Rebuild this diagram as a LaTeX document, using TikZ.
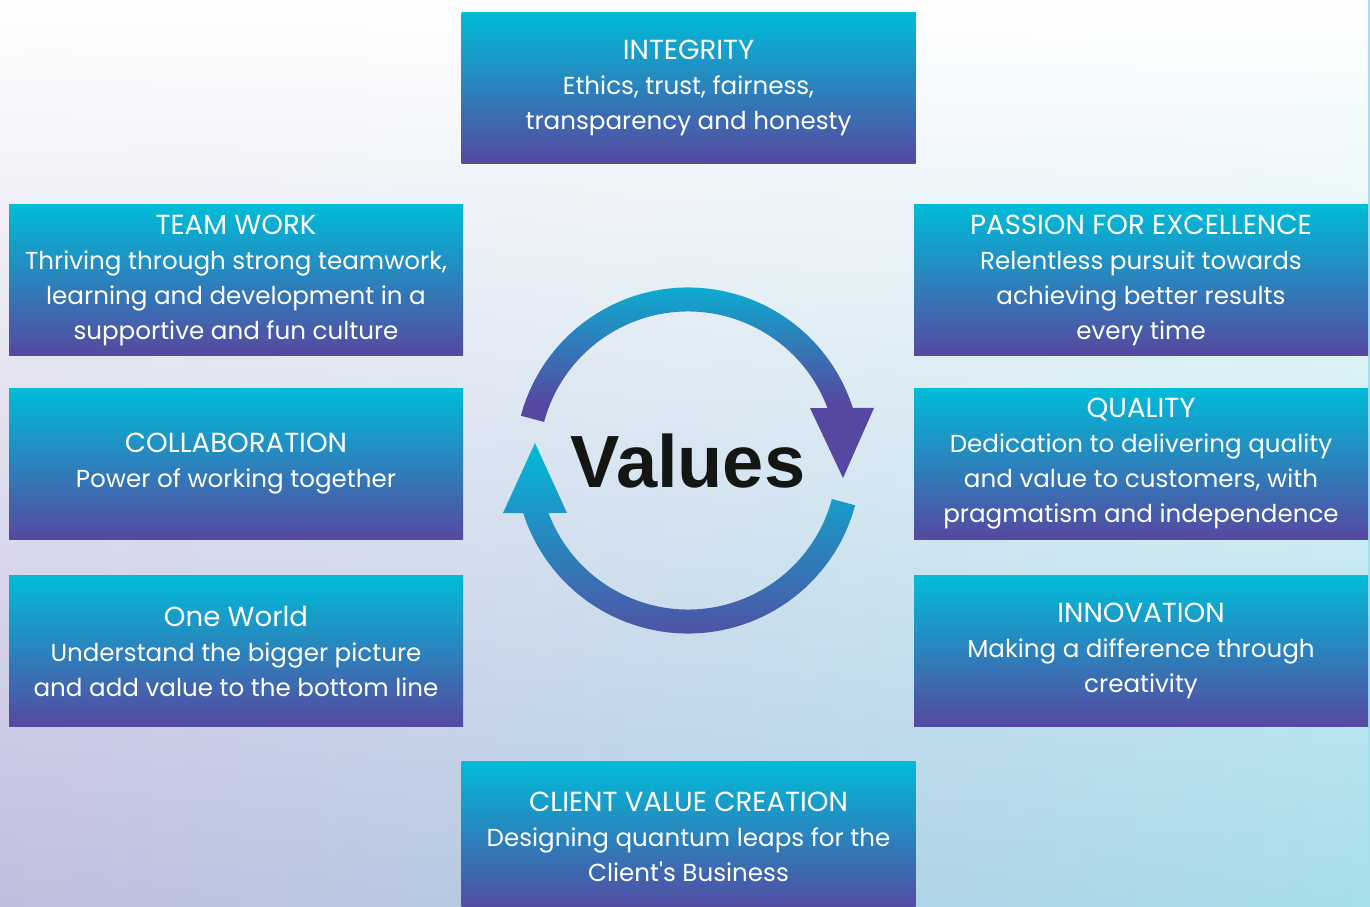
\documentclass[tikz,border=0pt]{standalone}
\usepackage{fontspec}
\setmainfont{Poppins}
\newfontfamily\valuesfont{Liberation Sans}
\usetikzlibrary{positioning,calc,fadings}
\definecolor{boxtop}{RGB}{0,188,216}
\definecolor{boxbottom}{RGB}{86,72,160}
\definecolor{bgleft}{RGB}{192,190,224}
\definecolor{bgright}{RGB}{166,222,234}
\definecolor{valuesink}{RGB}{20,22,20}
\tikzfading[name=fadedown, top color=transparent!0, bottom color=transparent!100]
\pgfdeclareverticalshading{ringupper}{100bp}{color(0bp)=(boxbottom); color(43bp)=(boxbottom); color(75bp)=(boxtop); color(100bp)=(boxtop)}
\newcommand{\headsize}{\fontsize{13.8}{17.5}\selectfont}

\begin{document}
\begin{tikzpicture}[x=0.5pt, y=0.5pt,
    valuebox/.style={top color=boxtop, bottom color=boxbottom, text=white,
      align=center, minimum width=227pt, minimum height=75.5pt, inner sep=0pt,
      font=\fontsize{12.3}{17.5}\selectfont},
    ring/.style={top color=boxtop, bottom color=boxbottom}]
  % background
  \fill[left color=bgleft, right color=bgright] (0,0) rectangle (1370,906);
  \fill[white, path fading=fadedown] (0,0) rectangle (1370,906);
  \useasboundingbox (0,0) rectangle (1370,906);

  % value boxes
  \node[valuebox] (integrity) at (688.5,818) {{\headsize INTEGRITY}\\Ethics, trust, fairness,\\transparency and honesty};
  \node[valuebox] (teamwork) at (236,626) {{\headsize TEAM WORK}\\Thriving through strong teamwork,\\learning and development in a\\supportive and fun culture};
  \node[valuebox] (passion) at (1141,626) {{\headsize PASSION FOR EXCELLENCE}\\Relentless pursuit towards\\achieving better results\\every time};
  \node[valuebox] (collaboration) at (236,442) {{\headsize COLLABORATION}\\Power of working together};
  \node[valuebox] (quality) at (1141,442) {{\headsize QUALITY}\\Dedication to delivering quality\\and value to customers, with\\pragmatism and independence};
  \node[valuebox] (oneworld) at (236,255) {{\headsize One World}\\Understand the bigger picture\\and add value to the bottom line};
  \node[valuebox] (innovation) at (1141,255) {{\headsize INNOVATION}\\Making a difference through\\creativity};
  \node[valuebox] (client) at (688.5,69) {{\headsize CLIENT VALUE CREATION}\\Designing quantum leaps for the\\Client\textquotesingle s Business};

  % circular arrows
  \coordinate (centre) at (688,445.5);
  \path[shading=ringupper] ($(centre)+(165:173)$) arc[start angle=165, end angle=17.7, radius=173]
    -- (874,498) -- (843,428) -- (810,498)
    -- ($(centre)+(20.6:149)$) arc[start angle=20.6, end angle=165, radius=149] -- cycle;
  \path[ring] ($(centre)+(-15:173)$) arc[start angle=-15, end angle=-162.3, radius=173]
    -- (503,393) -- (535,463) -- (567,393)
    -- ($(centre)+(-159.4:149)$) arc[start angle=-159.4, end angle=-15, radius=149] -- cycle;

  \node[font=\valuesfont\bfseries\fontsize{37}{40}\selectfont, text=valuesink, anchor=base, inner sep=0pt] (values) at (688,419) {Values};
\end{tikzpicture}
\end{document}
